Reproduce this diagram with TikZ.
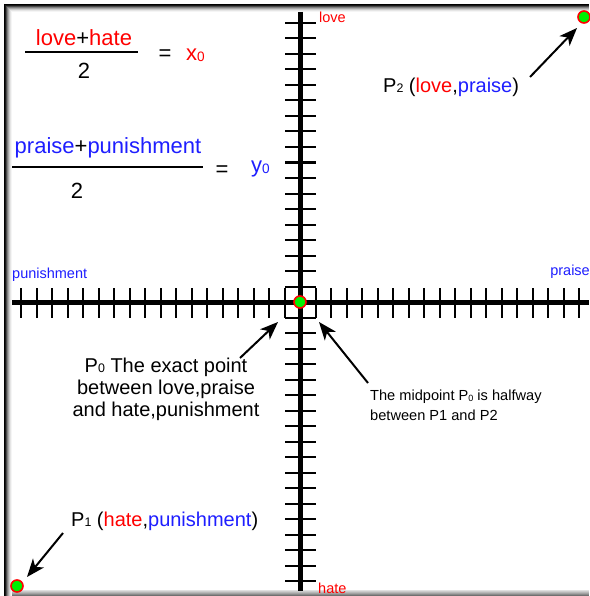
\documentclass[tikz,border=0pt]{standalone}
\usepackage{fontspec}
\setmainfont{Liberation Sans}
\usetikzlibrary{arrows.meta}
\definecolor{tred}{RGB}{255,0,0}
\definecolor{tblue}{RGB}{30,30,255}
\definecolor{dotgreen}{RGB}{0,240,0}
\newcommand\sbs[1]{\raisebox{-0.03em}{\scalebox{0.62}{#1}}}
\newcommand\fs[2]{\fontsize{#1}{#2}\selectfont}
\tikzset{
  txt/.style={inner sep=0pt},
  dot/.style={circle, draw=tred, fill=dotgreen, line width=1.6pt, minimum size=12pt, inner sep=0pt},
  arr/.style={line width=2pt, -{Stealth[length=18pt,width=14pt,inset=5pt]}},
  axis/.style={line width=5pt},
  tick/.style={line width=2pt},
  frac/.style={line width=1.6pt}
}
\begin{document}
\begin{tikzpicture}[x=1pt,y=-1pt]
\useasboundingbox (0,0) rectangle (589,596);
\fill[white] (0,0) rectangle (589,596);
% frame
\foreach \i/\c in {0/100,1/90,2/70,3/50,4/34,5/20,6/10,7/4}{
  \draw[black!\c, line width=1pt] (4.5+\i,4+\i) -- (4.5+\i,596);
  \draw[black!\c, line width=1pt] (4+\i,4.5+\i) -- (589,4.5+\i);
}
\foreach \i/\c in {0/12,1/20,2/28,3/36,4/46,5/56}{
  \draw[black!\c, line width=1pt] (12,590.5+\i) -- (589,590.5+\i);
}
% axes
\draw[axis] (12,302) -- (589,302);
\draw[axis] (300,12) -- (300,591);
\foreach \k in {-18,...,-1,1,2,...,18}{
  \draw[tick] (300+15.5*\k,288) -- (300+15.5*\k,318);
  \draw[tick] (285,302+15.5*\k) -- (316,302+15.5*\k);
}
% axis labels
\node[txt, anchor=west, text=tred, font=\fs{14.5}{16}] (lovel) at (319,17) {love};
\node[txt, anchor=west, text=tred, font=\fs{14.5}{16}] (hatel) at (318,588) {hate};
\node[txt, anchor=west, text=tblue, font=\fs{14.5}{16}] (punl) at (12,275) {punishment};
\node[txt, anchor=east, text=tblue, font=\fs{14.5}{16}] (prl) at (590,272) {praise};
% formula 1
\node[txt, font=\fs{22}{25}] (num1) at (84,38) {\textcolor{tred}{love}+\textcolor{tred}{hate}};
\draw[frac] (25,52) -- (138,52);
\node[txt, font=\fs{22}{25}] (den1) at (84,71) {2};
\node[txt, font=\fs{22}{25}] (eq1) at (165,55) {=};
\node[txt, anchor=west, text=tred, font=\fs{22}{25}] (x0) at (186,55) {x\sbs{0}};
% formula 2
\node[txt, font=\fs{22}{25}] (num2) at (108,148) {\textcolor{tblue}{praise}+\textcolor{tblue}{punishment}};
\draw[frac] (12,167) -- (203,167);
\node[txt, font=\fs{22}{25}] (den2) at (77,191) {2};
\node[txt, font=\fs{22}{25}] (eq2) at (222,171) {=};
\node[txt, anchor=west, text=tblue, font=\fs{22}{25}] (y0) at (251,169) {y\sbs{0}};
% dots
\node[dot] (p0) at (300,302) {};
\node[dot] (p1) at (17,586) {};
\node[dot] (p2) at (584,17) {};
% labels
\node[txt, anchor=west, font=\fs{20}{22}] (p2l) at (383,87) {P\sbs{2} (\textcolor{tred}{love},\textcolor{tblue}{praise})};
\node[txt, anchor=west, font=\fs{20}{22}] (p1l) at (71,521) {P\sbs{1} (\textcolor{tred}{hate},\textcolor{tblue}{punishment})};
\node[txt, align=center, font=\fs{20}{22}] (p0l) at (166,389) {P\sbs{0} The exact point\\between love,praise\\and hate,punishment};
\node[txt, align=left, anchor=north west, font=\fs{14.6}{20}] (midl) at (370,390) {The midpoint P\sbs{0} is halfway\\between P1 and P2};
% arrows
\coordinate (a2t) at (530,77); \coordinate (a2h) at (577,28);
\coordinate (a1t) at (63,533); \coordinate (a1h) at (27,577);
\coordinate (a0t) at (240,358); \coordinate (a0h) at (278,322);
\coordinate (amt) at (368,383); \coordinate (amh) at (319,322);
\draw[arr] (a2t) -- (a2h);
\draw[arr] (a1t) -- (a1h);
\draw[arr] (a0t) -- (a0h);
\draw[arr] (amt) -- (amh);
\end{tikzpicture}
\end{document}
